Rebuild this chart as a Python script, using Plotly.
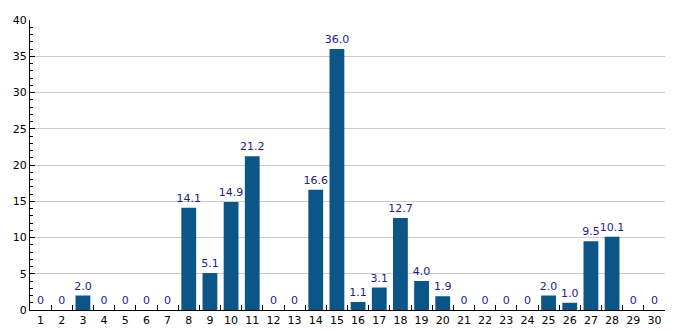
import plotly.graph_objects as go

categories = [str(i) for i in range(1, 31)]
values = [0, 0, 2.0, 0, 0, 0, 0, 14.1, 5.1, 14.9, 21.2, 0, 0, 16.6, 36.0,
          1.1, 3.1, 12.7, 4.0, 1.9, 0, 0, 0, 0, 2.0, 1.0, 9.5, 10.1, 0, 0]
labels = ["0" if v == 0 else f"{v:.1f}" for v in values]

fig = go.Figure(go.Bar(
    x=categories, y=values, text=labels, textposition="outside",
    textfont=dict(color="#1c1c8c", size=11, family="DejaVu Sans"),
    marker=dict(color="#0b5687", line=dict(width=0)),
    width=0.7, cliponaxis=False, constraintext="none",
))
fig.update_layout(
    width=685, height=330,
    margin=dict(l=30, r=20, t=20, b=20),
    plot_bgcolor="white", paper_bgcolor="white",
    font=dict(family="DejaVu Sans", size=11, color="black"),
    showlegend=False,
)
fig.update_xaxes(
    type="category", showline=True, linecolor="black", linewidth=1,
    ticks="inside", tickson="boundaries", ticklen=5, tickcolor="black",
    showgrid=False, tickfont=dict(size=11), tickangle=0, automargin=False,
)
fig.update_yaxes(
    range=[0, 40], dtick=5, showline=True, linecolor="black", linewidth=1,
    ticks="inside", ticklen=5, tickcolor="black",
    showgrid=True, gridcolor="#cccccc", gridwidth=1, zeroline=False,
    minor=dict(dtick=1, ticks="inside", ticklen=3, tickcolor="black", showgrid=False),
    tickfont=dict(size=11), automargin=False,
)
fig.write_html("out.html")
